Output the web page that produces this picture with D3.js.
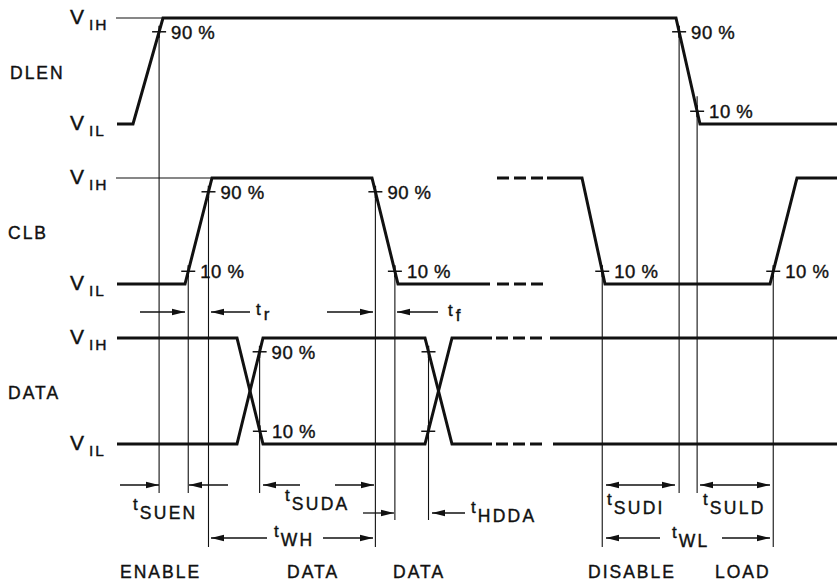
<!DOCTYPE html>
<html><head><meta charset="utf-8">
<script src="https://cdn.jsdelivr.net/npm/d3@7"></script>
<style>
html,body{margin:0;padding:0;background:#fff;}
svg{display:block;}
text{font-family:"Liberation Sans",Arial,Helvetica,sans-serif;fill:#111;stroke:#111;stroke-width:0.4;}
</style></head><body>
<svg id="chart" width="837" height="582"></svg>
<script>
// ---------------- data ----------------
const signals = ["DLEN", "CLB", "DATA"];
const levelNames = [{main: "V", sub: "IH", level: 1}, {main: "V", sub: "IL", level: 0}];
// waveform points: [time, level]  (level 1 = VIH, 0 = VIL)
const dlenWave    = [[0,0],[1.6,0],[4.6,1],[55.9,1],[58.3,0],[72,0]];
const clbWave     = [[0,0],[6.8,0],[9.5,1],[25.5,1],[28.1,0],[37.3,0]];
const clbWaveLate = [[43.0,1],[46.5,1],[48.8,0],[65.3,0],[68.0,1],[72,1]];
const clbDashed   = [[[38.0,1],[42.6,1]], [[38.0,0],[42.6,0]]];
const dataWaveA   = [[0,1],[12.0,1],[14.6,0],[30.8,0],[33.5,1],[37.5,1]];
const dataWaveB   = [[0,0],[12.0,0],[14.6,1],[30.8,1],[33.5,0],[37.5,0]];
const dataDashed  = [[[37.9,1],[42.6,1]], [[37.9,0],[42.6,0]]];
const dataWaveLate= [[[43.3,1],[72,1]], [[43.6,0],[72,0]]];
// thin VIH reference lines: [signal, end time]
const refLines = [["DLEN", 4.6], ["CLB", 9.5]];
// threshold marks: wave, segment index, level, label, row the guide line drops to
const TICK_HI = 0.87, TICK_LO = 0.12;
const marks = [
  {sig:"DLEN", wave:"dlen",    seg:1, lv:TICK_HI, label:"90 %", drop:"a"},
  {sig:"DLEN", wave:"dlen",    seg:3, lv:TICK_HI, label:"90 %", drop:"a"},
  {sig:"DLEN", wave:"dlen",    seg:3, lv:TICK_LO, label:"10 %", drop:"a", rise:15},
  {sig:"CLB",  wave:"clb",     seg:1, lv:TICK_LO, label:"10 %", drop:"a"},
  {sig:"CLB",  wave:"clb",     seg:1, lv:TICK_HI, label:"90 %", drop:"c"},
  {sig:"CLB",  wave:"clb",     seg:3, lv:TICK_HI, label:"90 %", drop:"c"},
  {sig:"CLB",  wave:"clb",     seg:3, lv:TICK_LO, label:"10 %", drop:"b"},
  {sig:"CLB",  wave:"clbLate", seg:1, lv:TICK_LO, label:"10 %", drop:"c"},
  {sig:"CLB",  wave:"clbLate", seg:3, lv:TICK_LO, label:"10 %", drop:"c"},
  {sig:"DATA", wave:"dataB",   seg:1, lv:TICK_HI, label:"90 %", drop:"a"},
  {sig:"DATA", wave:"dataA",   seg:1, lv:TICK_LO, label:"10 %", drop:null},
  {sig:"DATA", wave:"dataB",   seg:3, lv:TICK_HI, label:"",     drop:"b"},
  {sig:"DATA", wave:"dataA",   seg:3, lv:TICK_LO, label:"",     drop:null}
];
// dimension arrows: row, tail time, tip time, double-headed
const arrows = [
  {row:"r", from:2.3,  to:6.8},
  {row:"r", from:13.3, to:9.4},
  {row:"r", from:21.0, to:25.6},
  {row:"r", from:32.1, to:28.0},
  {row:"a", from:0.3,  to:4.2},
  {row:"a", from:11.1, to:7.2},
  {row:"a", from:18.3, to:14.6},
  {row:"a", from:21.8, to:25.7},
  {row:"b", from:24.6, to:27.7},
  {row:"b", from:34.8, to:31.5},
  {row:"c", from:15.0, to:9.4},
  {row:"c", from:20.6, to:25.6},
  {row:"a", from:48.9, to:55.8, both:true},
  {row:"a", from:58.3, to:65.3, both:true},
  {row:"c", from:54.3, to:48.9},
  {row:"c", from:60.5, to:65.3}
];
// timing parameter names
const timingNames = [
  {sub:"r",    t:13.9, key:"tr"},
  {sub:"f",    t:33.1, key:"tf"},
  {sub:"SUEN", t:1.6,  key:"tSUEN"},
  {sub:"SUDA", t:16.8, key:"tSUDA"},
  {sub:"HDDA", t:35.4, key:"tHDDA"},
  {sub:"WH",   t:15.7, key:"tWH"},
  {sub:"SUDI", t:49.0, key:"tSUDI"},
  {sub:"SULD", t:58.6, key:"tSULD"},
  {sub:"WL",   t:55.5, key:"tWL"}
];
const phaseNames = [
  {text:"ENABLE", t:0.3}, {text:"DATA", t:17.0}, {text:"DATA", t:27.6},
  {text:"DISABLE", t:47.1}, {text:"LOAD", t:59.8}
];

// ---------------- layout ----------------
const svg = d3.select("#chart");
const x = d3.scaleLinear().domain([0, 72]).range([117, 837]);
const rowY = d3.scalePoint().domain(signals).range([18, 338]);
const lvl = d3.scaleLinear().domain([0, 1]).range([106, 0]);
const y = (sig, v) => rowY(sig) + lvl(v);
const annotRow = {r: 312, a: 485, b: 513, c: 538};
const dropEnd = {a: 493, b: 520, c: 547};
const nameBaseline = {tr: 315, tf: 316, tSUEN: 510, tSUDA: 501, tHDDA: 513, tWH: 537, tSUDI: 505, tSULD: 505, tWL: 538};
const waves = {dlen: dlenWave, clb: clbWave, clbLate: clbWaveLate, dataA: dataWaveA, dataB: dataWaveB};

const thin = svg.append("g").attr("stroke", "#111").attr("stroke-width", 1.1).attr("fill", "none");
const thick = svg.append("g").attr("stroke", "#111").attr("stroke-width", 3).attr("fill", "none")
  .attr("stroke-linejoin", "miter");

const lineFor = sig => d3.line().x(d => x(d[0])).y(d => y(sig, d[1]));

// thin reference lines
refLines.forEach(([sig, tEnd]) => {
  thin.append("line").attr("x1", 116).attr("x2", x(tEnd))
    .attr("y1", y(sig, 1)).attr("y2", y(sig, 1));
});

// mark positions
marks.forEach(m => {
  const w = waves[m.wave];
  const p0 = w[m.seg], p1 = w[m.seg + 1];
  const f = (m.lv - p0[1]) / (p1[1] - p0[1]);
  m.t = p0[0] + f * (p1[0] - p0[0]);
  m.px = x(m.t);
  m.py = y(m.sig, m.lv);
});

// guide lines
marks.filter(m => m.drop).forEach(m => {
  thin.append("line").attr("x1", m.px).attr("x2", m.px)
    .attr("y1", m.py - (m.rise || 0)).attr("y2", dropEnd[m.drop]);
});

// waveforms
thick.append("path").attr("d", lineFor("DLEN")(dlenWave));
thick.append("path").attr("d", lineFor("CLB")(clbWave));
thick.append("path").attr("d", lineFor("CLB")(clbWaveLate));
clbDashed.forEach(s => thick.append("path").attr("d", lineFor("CLB")(s)).attr("stroke-dasharray", "12,5"));
thick.append("path").attr("d", lineFor("DATA")(dataWaveA));
thick.append("path").attr("d", lineFor("DATA")(dataWaveB));
dataDashed.forEach(s => thick.append("path").attr("d", lineFor("DATA")(s)).attr("stroke-dasharray", "12,5"));
dataWaveLate.forEach(s => thick.append("path").attr("d", lineFor("DATA")(s)));

// tick marks and percentage labels
marks.forEach(m => {
  svg.append("line").attr("x1", m.px - 7).attr("x2", m.px + 7)
    .attr("y1", m.py).attr("y2", m.py).attr("stroke", "#111").attr("stroke-width", 1.5);
  svg.append("line").attr("x1", m.px).attr("x2", m.px)
    .attr("y1", m.py - 6).attr("y2", m.py + 6).attr("stroke", "#111").attr("stroke-width", 1.5);
  if (m.label) {
    svg.append("text").attr("x", m.px + 12).attr("y", m.py + 7)
      .attr("font-size", 18.5).attr("letter-spacing", 0.5).text(m.label);
  }
});

// signal names
signals.forEach(s => {
  svg.append("text").attr("x", s === "DLEN" ? 10 : 8).attr("y", y(s, 0.5) + 8)
    .attr("font-size", 17.5).attr("letter-spacing", 2).text(s);
  levelNames.forEach(l => {
    const t = svg.append("text").attr("x", 70).attr("y", y(s, l.level) + 6);
    t.append("tspan").attr("font-size", 21).text(l.main);
    t.append("tspan").attr("font-size", 15.5).attr("letter-spacing", 2)
      .attr("dx", 5).attr("dy", 6).text(l.sub);
  });
});

// arrows
function head(px, py, dir) {
  const L = 13, W = 3.3;
  svg.append("path").attr("fill", "#111")
    .attr("d", `M${px},${py}L${px - dir * L},${py - W}L${px - dir * L},${py + W}Z`);
}
arrows.forEach(a => {
  const yy = annotRow[a.row];
  const x1 = x(a.from), x2 = x(a.to);
  thin.append("line").attr("x1", x1).attr("x2", x2).attr("y1", yy).attr("y2", yy).attr("stroke-width", 1.3);
  const dir = Math.sign(x2 - x1);
  head(x2, yy, dir);
  if (a.both) head(x1, yy, -dir);
});

// timing names
timingNames.forEach(n => {
  const base = nameBaseline[n.key];
  const small = n.sub.length === 1;
  const t = svg.append("text").attr("x", x(n.t)).attr("y", base);
  t.append("tspan").attr("font-size", 17).text("t");
  t.append("tspan").attr("font-size", small ? 17 : 17.5).attr("letter-spacing", small ? 0 : 2.3)
    .attr("dx", small ? 3 : 2).attr("dy", small ? 5 : 9).text(n.sub);
});

// phase names
phaseNames.forEach(p => {
  svg.append("text").attr("x", x(p.t)).attr("y", 578)
    .attr("font-size", 17.5).attr("letter-spacing", 2).text(p.text);
});
</script>
</body></html>
